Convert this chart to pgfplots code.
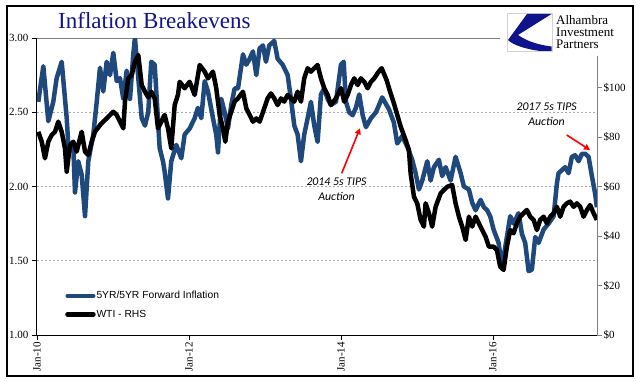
\documentclass[border=0pt]{standalone}
\usepackage{fontspec}
\setmainfont{Liberation Serif}
\newfontfamily\arialf{Liberation Sans}
\newfontfamily\calib{Carlito}
\usepackage{pgfplots}
\pgfplotsset{compat=1.18}
\usetikzlibrary{arrows.meta}
\definecolor{bkblue}{RGB}{31,73,125}
\definecolor{titleblue}{RGB}{20,20,140}
\definecolor{logoblue}{RGB}{15,20,140}
\definecolor{gridgray}{RGB}{170,170,170}
\definecolor{axgray}{RGB}{128,128,128}
\begin{document}
\begin{tikzpicture}[x=1pt,y=1pt]
\useasboundingbox (0,0) rectangle (641,381);
\fill[white] (0,0) rectangle (641,381);
\begin{axis}[
  at={(37pt,46pt)}, anchor=south west, scale only axis, width=560pt, height=297pt,
  xmin=0, xmax=7.37, ymin=1, ymax=3,
  axis x line*=bottom, axis y line*=left,
  axis line style={black, line width=1pt, -},
  xtick={0,2,4,6}, xticklabels={Jan-10,Jan-12,Jan-14,Jan-16},
  xticklabel style={rotate=90, anchor=east, inner sep=2pt},
  ytick={1,1.5,2,2.5}, extra y ticks={3},
  extra y tick style={grid style={axgray, solid, line width=0.8pt}},
  yticklabel style={/pgf/number format/.cd, fixed, fixed zerofill, precision=2},
  /pgf/number format/assume math mode=true,
  ticklabel style={font=\fontsize{11}{13}\selectfont},
  tick align=outside, major tick length=5pt,
  tick style={black, line width=0.8pt},
  ymajorgrids, grid style={gridgray, dash pattern=on 2pt off 2pt, line width=0.6pt},
]
\addplot[bkblue, line width=4.5pt, line join=round] coordinates {
(0.017,2.57)(0.083,2.81)(0.149,2.44)(0.214,2.57)(0.259,2.73)(0.325,2.84)(0.391,2.46)(0.412,2.28)(0.478,2.26)(0.500,1.96)(0.543,2.17)(0.588,2.08)(0.632,1.80)(0.675,2.17)(0.741,2.35)(0.786,2.57)(0.829,2.80)(0.872,2.64)(0.917,2.84)(0.961,2.75)(1.004,2.90)(1.049,2.71)(1.092,2.73)(1.136,2.59)(1.180,2.78)(1.224,2.59)(1.267,2.89)(1.289,3.00)(1.333,2.73)(1.378,2.46)(1.421,2.41)(1.464,2.50)(1.504,2.84)(1.549,2.82)(1.614,2.26)(1.658,2.17)(1.680,2.10)(1.724,1.92)(1.767,2.17)(1.833,2.28)(1.899,2.19)(1.943,2.35)(2.009,2.39)(2.075,2.46)(2.118,2.53)(2.162,2.46)(2.207,2.71)(2.250,2.64)(2.316,2.46)(2.359,2.35)(2.382,2.23)(2.425,2.59)(2.470,2.50)(2.513,2.39)(2.557,2.55)(2.601,2.66)(2.645,2.66)(2.711,2.89)(2.754,2.82)(2.799,2.86)(2.842,2.91)(2.886,2.75)(2.930,2.93)(2.974,2.95)(3.013,2.84)(3.057,2.95)(3.122,2.98)(3.167,2.86)(3.233,2.82)(3.299,2.75)(3.342,2.59)(3.386,2.41)(3.430,2.35)(3.474,2.17)(3.517,2.35)(3.562,2.46)(3.605,2.57)(3.649,2.41)(3.693,2.30)(3.737,2.62)(3.780,2.66)(3.825,2.59)(3.868,2.55)(3.934,2.57)(4.000,2.82)(4.036,2.84)(4.066,2.57)(4.109,2.50)(4.154,2.48)(4.197,2.53)(4.241,2.62)(4.286,2.48)(4.329,2.40)(4.395,2.46)(4.461,2.50)(4.543,2.60)(4.632,2.52)(4.697,2.43)(4.741,2.29)(4.807,2.34)(4.872,2.27)(4.938,2.18)(4.983,2.09)(5.026,1.98)(5.070,2.04)(5.136,2.17)(5.180,2.04)(5.224,2.13)(5.289,2.18)(5.333,2.07)(5.378,2.13)(5.443,2.04)(5.509,2.20)(5.575,2.09)(5.618,2.00)(5.684,1.98)(5.728,1.89)(5.772,1.84)(5.838,1.91)(5.882,1.86)(5.925,1.84)(5.964,1.80)(6.009,1.71)(6.075,1.62)(6.118,1.46)(6.162,1.59)(6.228,1.80)(6.272,1.75)(6.338,1.82)(6.382,1.68)(6.425,1.62)(6.470,1.43)(6.513,1.44)(6.557,1.66)(6.601,1.62)(6.667,1.71)(6.733,1.75)(6.799,1.80)(6.842,2.02)(6.864,2.09)(6.908,2.11)(6.951,2.13)(6.996,2.09)(7.039,2.20)(7.083,2.21)(7.128,2.17)(7.171,2.22)(7.214,2.22)(7.259,2.20)(7.303,2.07)(7.346,1.95)(7.368,1.86)
};
\end{axis}
\begin{axis}[
  at={(37pt,46pt)}, anchor=south west, scale only axis, width=560pt, height=297pt,
  xmin=0, xmax=7.37, ymin=0, ymax=120,
  axis x line=none, axis y line*=right,
  axis line style={axgray, line width=1pt, -},
  ytick={0,20,40,60,80,100}, yticklabels={\$0,\$20,\$40,\$60,\$80,\$100},
  ticklabel style={font=\fontsize{11}{13}\selectfont},
  yticklabel style={inner sep=1.5pt},
  tick align=outside, major tick length=5pt, tick style={axgray, line width=0.8pt},
  legend style={at={(0.05,0.15)}, anchor=north west, draw=none, fill=none,
    font=\arialf\fontsize{10.3}{12}\selectfont, row sep=8pt, inner sep=0pt,
    nodes={inner sep=0.8pt}},
  legend cell align=left,
  legend image code/.code={\draw[#1, line cap=round] (0pt,0pt) -- (26pt,0pt);},
]
\addlegendimage{bkblue, line width=4pt}
\addlegendentry{5YR/5YR Forward Inflation}
\addplot[black, line width=4.5pt, line join=round] coordinates {
(0.017,82.1)(0.062,78.1)(0.105,71.4)(0.149,78.1)(0.193,80.8)(0.237,82.1)(0.280,86.2)(0.325,82.1)(0.368,75.4)(0.391,66.0)(0.434,76.8)(0.478,78.1)(0.522,74.1)(0.588,82.1)(0.632,74.1)(0.675,72.7)(0.720,78.1)(0.763,82.1)(0.829,84.8)(0.872,86.2)(0.917,87.5)(0.961,88.9)(1.004,90.2)(1.049,88.9)(1.092,86.2)(1.136,83.5)(1.158,94.3)(1.201,103.7)(1.246,105.0)(1.289,110.4)(1.333,113.1)(1.378,101.0)(1.421,98.3)(1.464,96.0)(1.504,98.3)(1.549,95.6)(1.592,83.5)(1.636,86.2)(1.680,88.9)(1.724,83.5)(1.767,75.4)(1.812,92.9)(1.855,97.0)(1.878,102.3)(1.943,99.7)(2.009,102.3)(2.075,97.0)(2.141,109.1)(2.207,106.4)(2.250,103.7)(2.316,106.4)(2.359,99.7)(2.404,88.9)(2.447,83.5)(2.478,78.1)(2.513,86.2)(2.557,90.2)(2.601,94.3)(2.645,95.6)(2.711,98.3)(2.754,91.6)(2.799,88.9)(2.842,86.2)(2.886,87.5)(2.930,86.2)(2.991,91.6)(3.035,95.6)(3.079,97.6)(3.122,95.6)(3.167,92.9)(3.211,95.6)(3.254,94.3)(3.299,97.0)(3.342,95.6)(3.386,94.3)(3.430,98.3)(3.474,94.3)(3.517,103.7)(3.562,107.8)(3.605,106.4)(3.649,107.8)(3.693,109.1)(3.737,103.7)(3.780,99.7)(3.825,97.0)(3.868,92.9)(3.934,95.6)(4.000,99.7)(4.043,94.3)(4.088,97.0)(4.132,101.0)(4.175,103.7)(4.220,101.0)(4.263,103.7)(4.307,102.3)(4.351,99.7)(4.395,102.3)(4.438,103.7)(4.487,106.0)(4.536,107.8)(4.601,103.0)(4.654,97.6)(4.697,93.6)(4.786,84.2)(4.851,78.8)(4.895,74.7)(4.917,65.3)(4.961,55.9)(5.004,53.2)(5.049,46.5)(5.092,43.8)(5.114,53.2)(5.158,49.2)(5.201,43.8)(5.246,51.8)(5.312,57.2)(5.355,58.6)(5.399,59.9)(5.464,60.6)(5.509,53.2)(5.553,47.8)(5.596,43.8)(5.641,38.4)(5.684,47.8)(5.728,43.8)(5.772,47.8)(5.816,45.1)(5.859,42.4)(5.904,39.7)(5.947,35.7)(6.009,35.7)(6.053,34.3)(6.096,27.6)(6.141,26.3)(6.184,35.7)(6.228,42.4)(6.272,41.1)(6.316,45.1)(6.359,47.8)(6.404,49.2)(6.447,50.5)(6.491,47.8)(6.536,46.5)(6.579,42.4)(6.622,46.5)(6.667,47.8)(6.711,45.1)(6.754,47.8)(6.799,49.2)(6.842,51.8)(6.886,47.8)(6.930,51.8)(6.974,53.2)(7.017,53.9)(7.062,51.8)(7.105,53.2)(7.149,51.8)(7.193,47.8)(7.237,50.5)(7.280,52.5)(7.325,49.2)(7.368,46.5)
};
\addlegendentry{WTI - RHS}
\end{axis}
% logo
\fill[white] (500,325) rectangle (630,373);
\draw[gray!35, fill=white] (507,329.5) rectangle (552,367.5);
\fill[logoblue] (527,367) -- (551.5,367) -- (518,346) .. controls (528,339) and (540,336) .. (551.5,334.5) -- (551.5,330) -- (540,330) .. controls (525,332) and (513,336) .. (508,341) -- cycle;
\node[anchor=base west, inner sep=0pt, font=\fontsize{13}{12}\selectfont] at (556,356) {Alhambra};
\node[anchor=base west, inner sep=0pt, font=\fontsize{13}{12}\selectfont] at (556,344.3) {Investment};
\node[anchor=base west, inner sep=0pt, font=\fontsize{13}{12}\selectfont] at (556,332.7) {Partners};
% title
\node[anchor=base west, inner sep=0pt, font=\fontsize{23}{26}\selectfont, text=titleblue] at (58,352) {Inflation Breakevens};
% annotations
\node[font=\calib\itshape\fontsize{11.8}{13}\selectfont, inner sep=0pt] at (336.5,199.3) {2014 5s TIPS};
\node[font=\calib\itshape\fontsize{11.8}{13}\selectfont, inner sep=0pt] at (336.5,184.3) {Auction};
\node[font=\calib\itshape\fontsize{11.8}{13}\selectfont, inner sep=0pt] at (546.7,274.3) {2017 5s TIPS};
\node[font=\calib\itshape\fontsize{11.8}{13}\selectfont, inner sep=0pt] at (546.5,259.3) {Auction};
\draw[red, line width=1.6pt, -{Triangle[length=6pt,width=6pt]}] (341.7,207.7) -- (360,252.7);
\draw[red, line width=1.6pt, -{Triangle[length=6pt,width=6pt]}] (566.7,246) -- (590,231);
% frame
\draw[black, line width=1.3pt] (7,5) rectangle (633,375);
\end{tikzpicture}
\end{document}
